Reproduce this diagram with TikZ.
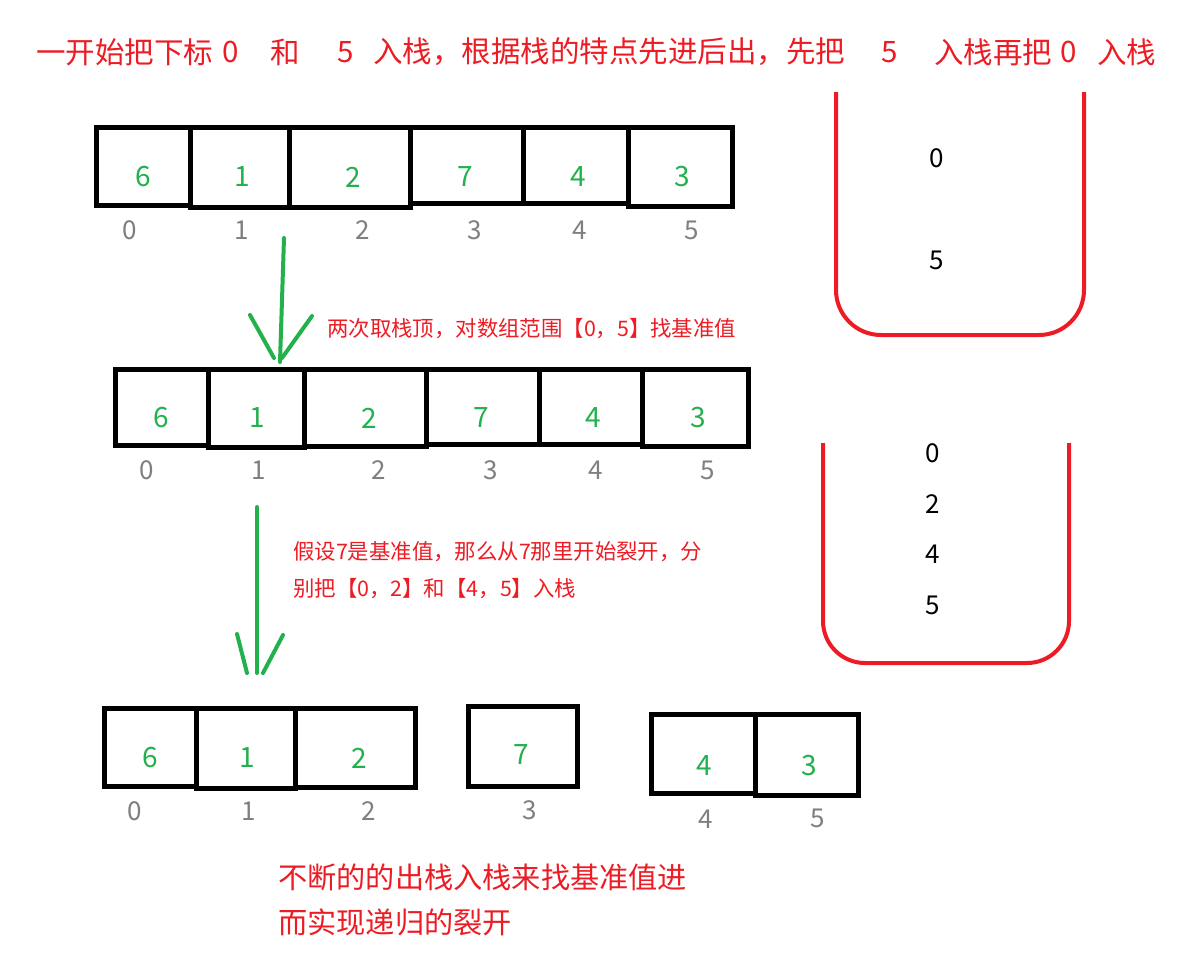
\documentclass[tikz,border=0pt]{standalone}
\usepackage{fontspec}
\setmainfont{Noto Sans CJK SC}
\definecolor{pred}{RGB}{237,28,36}
\definecolor{pgreen}{RGB}{34,177,76}
\definecolor{pgray}{RGB}{127,127,127}
\begin{document}
\begin{tikzpicture}[x=1pt,y=-1pt,
  cellbox/.style={draw=black,line width=5pt},
  val/.style={text=pgreen,font=\fontsize{28}{32}\selectfont,inner sep=0pt},
  idx/.style={text=pgray,font=\fontsize{26}{30}\selectfont,inner sep=0pt},
  stk/.style={text=black,font=\fontsize{26}{30}\selectfont,inner sep=0pt},
  ttl/.style={text=pred,font=\fontsize{29.5}{34}\selectfont,inner sep=0pt},
  lbl/.style={text=pred,font=\fontsize{21.4}{26}\selectfont,inner sep=0pt,anchor=west},
  big/.style={text=pred,font=\fontsize{29.2}{34}\selectfont,inner sep=0pt,anchor=west},
  stackline/.style={draw=pred,line width=4pt},
  garrow/.style={draw=pgreen,line width=4pt,line cap=round}]
\useasboundingbox[fill=white] (0,0) rectangle (1180,959);

% title
\node[ttl,anchor=west] (t1) at (36,52) {一开始把下标};
\node[ttl] (t2) at (231,52) {0};
\node[ttl] (t3) at (285,52) {和};
\node[ttl] (t4) at (346,52) {5};
\node[ttl,anchor=west] (t5) at (373,52) {入栈，根据栈的特点先进后出，先把};
\node[ttl] (t6) at (890,52) {5};
\node[ttl,anchor=west] (t7) at (934,52) {入栈再把};
\node[ttl] (t8) at (1069,52) {0};
\node[ttl,anchor=west] (t9) at (1097,52) {入栈};

% row 1
\draw[cellbox] (96,127) rectangle (190,205);
\draw[cellbox] (190,127) rectangle (289,207);
\draw[cellbox] (289,127) rectangle (410,207);
\draw[cellbox] (410,127) rectangle (523,203);
\draw[cellbox] (523,127) rectangle (628,203);
\draw[cellbox] (628,127) rectangle (732,206);
\node[val] (a0) at (143,177) {6};
\node[val] (a1) at (242,177) {1};
\node[val] (a2) at (353,177) {2};
\node[val] (a3) at (465,177) {7};
\node[val] (a4) at (578,177) {4};
\node[val] (a5) at (682,177) {3};
\node[idx] (i0) at (130,230) {0};
\node[idx] (i1) at (242,230) {1};
\node[idx] (i2) at (363,230) {2};
\node[idx] (i3) at (475,230) {3};
\node[idx] (i4) at (580,230) {4};
\node[idx] (i5) at (692,230) {5};

% arrow 1
\coordinate (p1s) at (284,238);
\coordinate (p1e) at (280,362);
\coordinate (p1l) at (250,315);
\coordinate (p1le) at (274,358);
\coordinate (p1r) at (312,316);
\coordinate (p1re) at (282,358);
\draw[garrow] (p1s) -- (p1e);
\draw[garrow] (p1l) -- (p1le);
\draw[garrow] (p1r) -- (p1re);
\node[lbl] (l1) at (327,329) {两次取栈顶，对数组范围【0，5】找基准值};

% row 2
\draw[cellbox] (115,369) rectangle (208,445);
\draw[cellbox] (208,369) rectangle (304,447);
\draw[cellbox] (304,369) rectangle (426,446);
\draw[cellbox] (426,369) rectangle (539,444);
\draw[cellbox] (539,369) rectangle (642,444);
\draw[cellbox] (642,369) rectangle (748,446);
\node[val] (b0) at (161,418) {6};
\node[val] (b1) at (257,418) {1};
\node[val] (b2) at (369,418) {2};
\node[val] (b3) at (481,418) {7};
\node[val] (b4) at (593,418) {4};
\node[val] (b5) at (698,418) {3};
\node[idx] (j0) at (147,470) {0};
\node[idx] (j1) at (259,470) {1};
\node[idx] (j2) at (379,470) {2};
\node[idx] (j3) at (491,470) {3};
\node[idx] (j4) at (596,470) {4};
\node[idx] (j5) at (708,470) {5};

% arrow 2
\coordinate (p2s) at (257,507);
\coordinate (p2e) at (257,673);
\coordinate (p2l) at (237,634);
\coordinate (p2le) at (247,673);
\coordinate (p2r) at (283,635);
\coordinate (p2re) at (263,673);
\draw[garrow] (p2s) -- (p2e);
\draw[garrow] (p2l) -- (p2le);
\draw[garrow] (p2r) -- (p2re);
\node[lbl] (l2a) at (293,552) {假设7是基准值，那么从7那里开始裂开，分};
\node[lbl] (l2b) at (293,589) {别把【0，2】和【4，5】入栈};

% row 3
\draw[cellbox] (104,708) rectangle (196,786);
\draw[cellbox] (196,708) rectangle (295,788);
\draw[cellbox] (295,708) rectangle (415,787);
\draw[cellbox] (468,706) rectangle (577,786);
\draw[cellbox] (651,714) rectangle (755,793);
\draw[cellbox] (755,714) rectangle (858,795);
\node[val] (c0) at (150,758) {6};
\node[val] (c1) at (247,758) {1};
\node[val] (c2) at (359,758) {2};
\node[val] (c3) at (521,755) {7};
\node[val] (c4) at (704,766) {4};
\node[val] (c5) at (809,766) {3};
\node[idx] (k0) at (135,811) {0};
\node[idx] (k1) at (249,811) {1};
\node[idx] (k2) at (369,811) {2};
\node[idx] (k3) at (530,810) {3};
\node[idx] (k4) at (706,819) {4};
\node[idx] (k5) at (818,818) {5};

% stack 1
\draw[stackline,rounded corners=45pt] (836,92) -- (836,335) -- (1084,335) -- (1084,92);
\node[stk] (s10) at (937,158) {0};
\node[stk] (s11) at (937,260) {5};

% stack 2
\draw[stackline,rounded corners=42pt] (823,443) -- (823,663) -- (1069,663) -- (1069,443);
\node[stk] (s20) at (933,453) {0};
\node[stk] (s21) at (933,504) {2};
\node[stk] (s22) at (933,554) {4};
\node[stk] (s23) at (933,605) {5};

% bottom text
\node[big] (n1) at (278,877) {不断的的出栈入栈来找基准值进};
\node[big] (n2) at (278,922) {而实现递归的裂开};
\end{tikzpicture}
\end{document}
